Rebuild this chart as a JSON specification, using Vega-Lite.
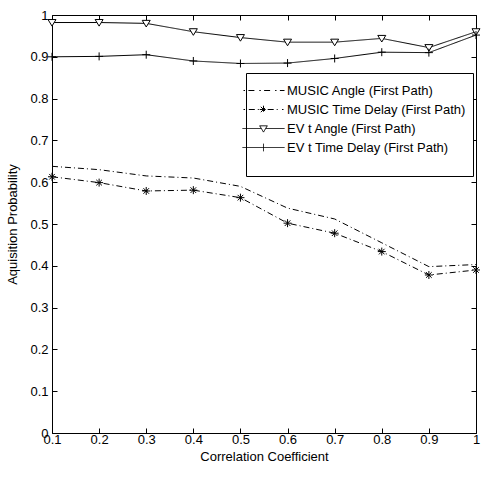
{
  "$schema": "https://vega.github.io/schema/vega-lite/v6.json",
  "width": 424,
  "height": 418,
  "autosize": {"type": "none"},
  "padding": {"left": 52, "top": 15, "right": 5, "bottom": 44},
  "background": "white",
  "config": {
    "view": {"stroke": null},
    "font": "Liberation Sans",
    "axis": {
      "grid": false,
      "domainColor": "black",
      "domainWidth": 1,
      "tickColor": "black",
      "tickWidth": 1,
      "tickSize": -5,
      "labelColor": "black",
      "labelFont": "Liberation Sans",
      "labelFontSize": 13,
      "labelFlush": false,
      "labelOverlap": false,
      "labelBound": false,
      "titleColor": "black",
      "titleFont": "Liberation Sans",
      "titleFontSize": 13,
      "titleFontWeight": "normal"
    }
  },
  "data": {
    "values": [
      {"series": "MUSIC Angle (First Path)", "x": 0.1, "y": 0.638},
      {"series": "MUSIC Angle (First Path)", "x": 0.2, "y": 0.630},
      {"series": "MUSIC Angle (First Path)", "x": 0.3, "y": 0.615},
      {"series": "MUSIC Angle (First Path)", "x": 0.4, "y": 0.610},
      {"series": "MUSIC Angle (First Path)", "x": 0.5, "y": 0.590},
      {"series": "MUSIC Angle (First Path)", "x": 0.6, "y": 0.538},
      {"series": "MUSIC Angle (First Path)", "x": 0.7, "y": 0.512},
      {"series": "MUSIC Angle (First Path)", "x": 0.8, "y": 0.455},
      {"series": "MUSIC Angle (First Path)", "x": 0.9, "y": 0.398},
      {"series": "MUSIC Angle (First Path)", "x": 1.0, "y": 0.403},
      {"series": "MUSIC Time Delay (First Path)", "x": 0.1, "y": 0.613},
      {"series": "MUSIC Time Delay (First Path)", "x": 0.2, "y": 0.599},
      {"series": "MUSIC Time Delay (First Path)", "x": 0.3, "y": 0.579},
      {"series": "MUSIC Time Delay (First Path)", "x": 0.4, "y": 0.581},
      {"series": "MUSIC Time Delay (First Path)", "x": 0.5, "y": 0.563},
      {"series": "MUSIC Time Delay (First Path)", "x": 0.6, "y": 0.502},
      {"series": "MUSIC Time Delay (First Path)", "x": 0.7, "y": 0.478},
      {"series": "MUSIC Time Delay (First Path)", "x": 0.8, "y": 0.434},
      {"series": "MUSIC Time Delay (First Path)", "x": 0.9, "y": 0.378},
      {"series": "MUSIC Time Delay (First Path)", "x": 1.0, "y": 0.390},
      {"series": "EV t Angle (First Path)", "x": 0.1, "y": 0.982},
      {"series": "EV t Angle (First Path)", "x": 0.2, "y": 0.982},
      {"series": "EV t Angle (First Path)", "x": 0.3, "y": 0.980},
      {"series": "EV t Angle (First Path)", "x": 0.4, "y": 0.960},
      {"series": "EV t Angle (First Path)", "x": 0.5, "y": 0.946},
      {"series": "EV t Angle (First Path)", "x": 0.6, "y": 0.935},
      {"series": "EV t Angle (First Path)", "x": 0.7, "y": 0.935},
      {"series": "EV t Angle (First Path)", "x": 0.8, "y": 0.944},
      {"series": "EV t Angle (First Path)", "x": 0.9, "y": 0.922},
      {"series": "EV t Angle (First Path)", "x": 1.0, "y": 0.960},
      {"series": "EV t Time Delay (First Path)", "x": 0.1, "y": 0.900},
      {"series": "EV t Time Delay (First Path)", "x": 0.2, "y": 0.901},
      {"series": "EV t Time Delay (First Path)", "x": 0.3, "y": 0.905},
      {"series": "EV t Time Delay (First Path)", "x": 0.4, "y": 0.890},
      {"series": "EV t Time Delay (First Path)", "x": 0.5, "y": 0.884},
      {"series": "EV t Time Delay (First Path)", "x": 0.6, "y": 0.885},
      {"series": "EV t Time Delay (First Path)", "x": 0.7, "y": 0.896},
      {"series": "EV t Time Delay (First Path)", "x": 0.8, "y": 0.911},
      {"series": "EV t Time Delay (First Path)", "x": 0.9, "y": 0.910},
      {"series": "EV t Time Delay (First Path)", "x": 1.0, "y": 0.952}
    ]
  },
  "layer": [
    {
      "mark": {"type": "line", "color": "black", "strokeWidth": 1},
      "encoding": {
        "x": {
          "field": "x", "type": "quantitative",
          "scale": {"domain": [0.1, 1], "nice": false, "zero": false},
          "axis": {
            "orient": "bottom",
            "values": [0.1, 0.2, 0.3, 0.4, 0.5, 0.6, 0.7, 0.8, 0.9, 1],
            "format": "~g",
            "labelPadding": 5,
            "title": "Correlation Coefficient",
            "titlePadding": 4
          }
        },
        "y": {
          "field": "y", "type": "quantitative",
          "scale": {"domain": [0, 1], "nice": false},
          "axis": {
            "orient": "left",
            "values": [0, 0.1, 0.2, 0.3, 0.4, 0.5, 0.6, 0.7, 0.8, 0.9, 1],
            "format": "~g",
            "labelPadding": 9,
            "title": "Aquisition Probability",
            "titlePadding": 10
          }
        },
        "strokeDash": {
          "field": "series", "type": "nominal",
          "scale": {
            "domain": ["MUSIC Angle (First Path)", "MUSIC Time Delay (First Path)", "EV t Angle (First Path)", "EV t Time Delay (First Path)"],
            "range": [[6, 3, 1, 3], [6, 3, 1, 3], [1, 0], [1, 0]]
          },
          "legend": {
            "orient": "none",
            "legendX": 194,
            "legendY": 58,
            "title": " ",
            "titleOrient": "bottom",
            "titleFontSize": 14,
            "titlePadding": 0,
            "fillColor": "white",
            "strokeColor": "black",
            "padding": 7,
            "symbolSize": 400,
            "symbolStrokeWidth": 1,
            "symbolStrokeColor": "black",
            "labelFont": "Liberation Sans",
            "labelFontSize": 13,
            "labelColor": "black",
            "labelOffset": 13,
            "labelLimit": 400,
            "rowPadding": 1,
            "encode": {
              "symbols": {
                "update": {
                  "shape": {"signal": "datum.value === 'MUSIC Angle (First Path)' ? 'M-2,0H-1.85M-1.51,0H-0.76M-0.42,0H-0.27M0.06,0H0.82M1.16,0H1.3M1.64,0H2.1' : datum.value === 'MUSIC Time Delay (First Path)' ? 'M-2,0H-1.85M-1.47,0H-0.42M0.42,0H1.47M1.85,0H2M-0.38,0H0.38M0,-0.38V0.38M-0.27,-0.27L0.27,0.27M-0.27,0.27L0.27,-0.27' : datum.value === 'EV t Angle (First Path)' ? 'M-2.1,0H-0.22M0.22,0H2.1M-0.38,-0.27L0.38,-0.27L0,0.36Z' : 'M-2.1,0H2.1M0,-0.38V0.38'"},
                  "strokeDash": {"value": [1, 0]},
                  "fill": {"value": "white"},
                  "stroke": {"value": "black"},
                  "strokeWidth": {"value": 1}
                }
              }
            }
          }
        }
      }
    },
    {
      "transform": [{"filter": "datum.series !== 'MUSIC Angle (First Path)'"}],
      "mark": {"type": "point", "filled": true, "fill": "white", "stroke": "black", "strokeWidth": 1, "size": 64, "opacity": 1},
      "encoding": {
        "x": {
          "field": "x", "type": "quantitative",
          "axis": {
            "orient": "top",
            "values": [0.1, 0.2, 0.3, 0.4, 0.5, 0.6, 0.7, 0.8, 0.9, 1],
            "labels": false,
            "title": null
          }
        },
        "y": {
          "field": "y", "type": "quantitative",
          "axis": {
            "orient": "right",
            "values": [0, 0.1, 0.2, 0.3, 0.4, 0.5, 0.6, 0.7, 0.8, 0.9, 1],
            "labels": false,
            "title": null
          }
        },
        "shape": {
          "field": "series", "type": "nominal",
          "scale": {
            "domain": ["MUSIC Time Delay (First Path)", "EV t Angle (First Path)", "EV t Time Delay (First Path)"],
            "range": [
              "M-1,0H1M0,-1V1M-0.7,-0.7L0.7,0.7M-0.7,0.7L0.7,-0.7",
              "M-1,-0.75L1,-0.75L0,0.9Z",
              "M-1,0H1M0,-1V1"
            ]
          },
          "legend": null
        }
      }
    }
  ],
  "resolve": {"axis": {"x": "independent", "y": "independent"}}
}
